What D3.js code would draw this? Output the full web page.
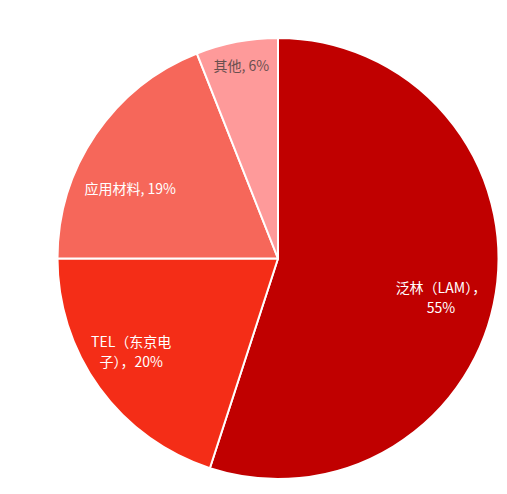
<!DOCTYPE html>
<html><head><meta charset="utf-8">
<script src="https://cdn.jsdelivr.net/npm/d3@7"></script>
<style>html,body{margin:0;padding:0;background:#fff;}</style>
</head><body>
<svg id="c" width="507" height="494"></svg>
<script>
const categories = ["泛林（LAM）", "TEL（东京电子）", "应用材料", "其他"];
const values = [55, 20, 19, 6];
const labelLines = [["泛林（LAM），", "55%"], ["TEL（东京电", "子），20%"], ["应用材料, 19%"], ["其他, 6%"]];
const colors = ["#C00000", "#F42D17", "#F6675A", "#FE9A9A"];
const textColors = ["#ffffff", "#ffffff", "#ffffff", "#6a5050"];

const W = 507, H = 494, cx = 278, cy = 258.5, R = 220.5;
const svg = d3.select("#c");
const g = svg.append("g").attr("transform", `translate(${cx},${cy})`);
const data = categories.map((c, i) => ({ cat: c, value: values[i], i }));
const pie = d3.pie().value(d => d.value).sort(null);
const arcs = pie(data);
const arc = d3.arc().innerRadius(0).outerRadius(R);
g.selectAll("path").data(arcs).join("path")
  .attr("d", arc)
  .attr("fill", d => colors[d.data.i])
  .attr("stroke", "#fff").attr("stroke-width", 2).attr("stroke-linejoin", "round");

const labelRatio = [0.76, 0.79, 0.74, 0.89];
const labelShift = [0.08, 0.06, -0.16, 0.0];
arcs.forEach(a => {
  const i = a.data.i;
  const mid = (a.startAngle + a.endAngle) / 2 + labelShift[i];
  const r = R * labelRatio[i];
  const x = r * Math.sin(mid), y = -r * Math.cos(mid);
  const lines = labelLines[i];
  const lh = 20;
  const t = g.append("text")
    .attr("text-anchor", "middle")
    .attr("font-family", "'Noto Sans CJK SC', 'Noto Sans', sans-serif")
    .attr("font-size", 14)
    .attr("fill", textColors[i]);
  lines.forEach((ln, k) => {
    t.append("tspan").attr("x", x)
      .attr("y", y + (k - (lines.length - 1) / 2) * lh)
      .attr("dy", "0.35em").text(ln);
  });
});
</script>
</body></html>
